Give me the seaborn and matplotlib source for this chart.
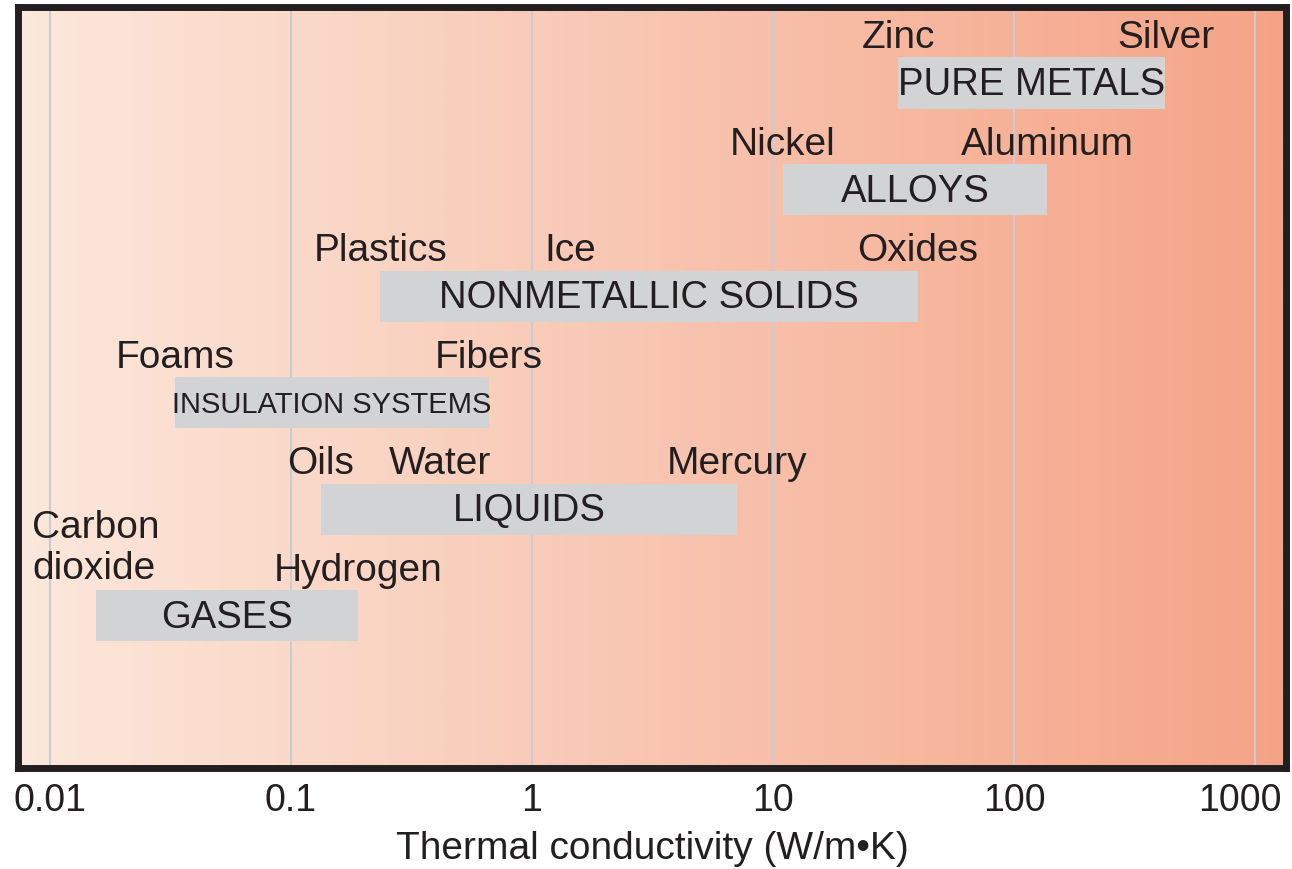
import numpy as np
import pandas as pd
import matplotlib
matplotlib.use("Agg")
import matplotlib.pyplot as plt
import matplotlib.transforms as mtransforms
from matplotlib.colors import LinearSegmentedColormap
import seaborn as sns

# Material classes: range of thermal conductivity (W/m.K)
categories = ["PURE METALS", "ALLOYS", "NONMETALLIC SOLIDS",
              "INSULATION SYSTEMS", "LIQUIDS", "GASES"]
k_low = [33, 11, 0.235, 0.033, 0.133, 0.0155]
k_high = [425, 137, 40, 0.66, 7.1, 0.19]

# Example materials shown above each range
material_names = ["Zinc", "Silver", "Nickel", "Aluminum", "Plastics", "Ice",
                  "Oxides", "Foams", "Fibers", "Oils", "Water", "Mercury",
                  "Carbon\ndioxide", "Hydrogen"]
material_k = [33, 425, 11, 137, 0.235, 1.44, 40, 0.033, 0.66, 0.133, 0.415,
              7.1, 0.0155, 0.19]
material_row = [0, 0, 1, 1, 2, 2, 2, 3, 3, 4, 4, 4, 5, 5]

tick_values = [0.01, 0.1, 1, 10, 100, 1000]
tick_labels = ["0.01", "0.1", "1", "10", "100", "1000"]

df = pd.DataFrame({"category": categories, "low": k_low, "high": k_high})
df["row"] = np.arange(len(df))
mats = pd.DataFrame({"name": material_names, "k": material_k, "row": material_row})

sns.set_theme(style="white")
plt.rcParams["font.family"] = ["Liberation Sans", "DejaVu Sans"]

text_color = "#231F20"
bar_color = "#D1D3D4"

fig = plt.figure(figsize=(12.92, 8.70), dpi=100)
ax = fig.add_axes([0.0143, 0.1161, 0.9811, 0.8747])

# peach-to-salmon gradient background
cmap = LinearSegmentedColormap.from_list("bg", ["#FCE8DC", "#F5A386"])
grad = np.linspace(0, 1, 512).reshape(1, -1)
ax.imshow(grad, cmap=cmap, aspect="auto", extent=(0, 1, 0, 1),
          transform=ax.transAxes, zorder=0, interpolation="bilinear")

ax.set_xscale("log")
ax.barh(df["row"], df["high"] - df["low"], left=df["low"], height=0.48,
        color=bar_color, edgecolor="none", zorder=2)

for _, r in df.iterrows():
    xc = np.sqrt(r["low"] * r["high"])
    narrow = r["category"] == "INSULATION SYSTEMS"
    ax.text(xc, r["row"] + 0.01, r["category"], ha="center", va="center",
            fontsize=21 if narrow else 27.5, color=text_color, zorder=3)

for _, m in mats.iterrows():
    if "\n" in m["name"]:
        ax.text(m["k"], m["row"] - 0.64, m["name"], ha="center", va="center",
                multialignment="left", fontsize=28, color=text_color,
                linespacing=1.15, zorder=3)
    else:
        ax.text(m["k"], m["row"] - 0.43, m["name"], ha="center", va="center",
                fontsize=28, color=text_color, zorder=3)

ax.set_xlim(0.0074, 1345)
ax.set_ylim(6.43, -0.714)
ax.set_xticks(tick_values)
ax.set_xticklabels(tick_labels)
ax.minorticks_off()
ax.set_yticks([])
ax.tick_params(axis="x", length=0, pad=10, labelsize=27, labelcolor=text_color)
# last label sits a little left of its gridline so it stays inside the figure
last = ax.get_xticklabels()[-1]
last.set_transform(last.get_transform() +
                   mtransforms.ScaledTranslation(-15 / 100, 0, fig.dpi_scale_trans))
ax.grid(axis="x", color="#C8CDD2", lw=1.5)
ax.grid(axis="y", visible=False)
ax.set_axisbelow(True)
for s in ax.spines.values():
    s.set_color(text_color)
    s.set_linewidth(5)
    s.set_visible(True)
    s.set_zorder(5)

ax.set_xlabel("Thermal conductivity (W/m•K)", fontsize=28, color=text_color, labelpad=9)

fig.savefig("out.png", dpi=100)
